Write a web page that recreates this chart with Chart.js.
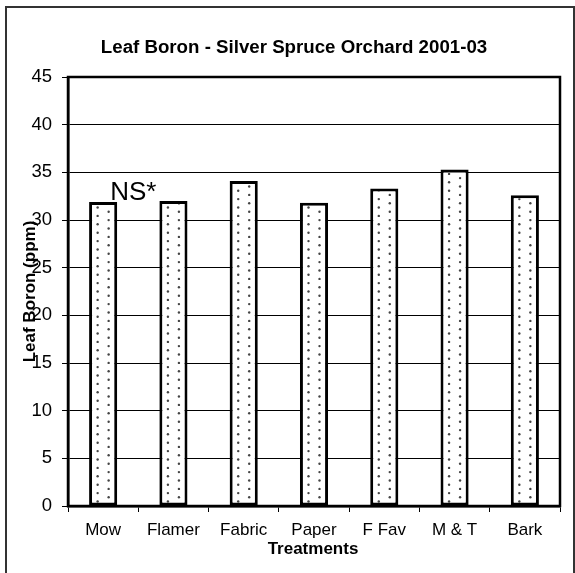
<!DOCTYPE html>
<html>
<head>
<meta charset="utf-8">
<script src="https://cdn.jsdelivr.net/npm/chart.js@4.4.1/dist/chart.umd.min.js"></script>
<style>
html,body{margin:0;padding:0;background:#fff;}
#wrap{width:575px;height:573px;position:relative;}
</style>
</head>
<body>
<div id="wrap"><canvas id="c" width="575" height="573"></canvas></div>
<script>
const categories = ['Mow', 'Flamer', 'Fabric', 'Paper', 'F Fav', 'M & T', 'Bark'];
const leafBoron = [31.9, 32.0, 34.1, 31.8, 33.3, 35.3, 32.6];
const yMin = 0, yMax = 45, yStep = 5;
const chartTitle = 'Leaf Boron - Silver Spruce Orchard 2001-03';
const xTitle = 'Treatments';
const yTitle = 'Leaf Boron (ppm)';
const note = 'NS*';
const noteValue = 32.1;

const FONT = '"Liberation Sans", Arial, sans-serif';

const decor = {
  id: 'decor',
  beforeDraw(chart) {
    const ctx = chart.ctx;
    ctx.save();
    ctx.fillStyle = '#fff';
    ctx.fillRect(0, 0, chart.width, chart.height);
    ctx.strokeStyle = '#333';
    ctx.lineWidth = 2;
    ctx.beginPath();
    ctx.moveTo(6, chart.height + 2);
    ctx.lineTo(6, 7);
    ctx.lineTo(574, 7);
    ctx.lineTo(574, chart.height + 2);
    ctx.stroke();
    ctx.restore();
  },
  afterDatasetsDraw(chart) {
    const ctx = chart.ctx;
    const meta = chart.getDatasetMeta(0);
    ctx.save();
    meta.data.forEach(bar => {
      const p = bar.getProps(['x', 'y', 'base', 'width'], true);
      const bw = 3;
      const l = p.x - p.width / 2 + bw, r = p.x + p.width / 2 - bw;
      const t = p.y + bw, b = p.base;
      ctx.save();
      ctx.beginPath();
      ctx.rect(l, t, r - l, b - t);
      ctx.clip();
      ctx.fillStyle = '#444';
      const cols = [p.x - 5.5, p.x + 5.5];
      cols.forEach((cx, i) => {
        for (let yy = b - 4 - i * 4.2; yy > t - 3; yy -= 8.4) {
          ctx.beginPath();
          ctx.arc(cx, yy, 1.2, 0, Math.PI * 2);
          ctx.fill();
        }
      });
      ctx.restore();
    });
    const a = chart.chartArea;
    ctx.strokeStyle = '#000';
    ctx.lineWidth = 2.5;
    ctx.strokeRect(a.left, a.top, a.right - a.left, a.bottom - a.top);
    ctx.restore();
  },
  afterDraw(chart) {
    const ctx = chart.ctx;
    const a = chart.chartArea;
    const xs = chart.scales.x, ys = chart.scales.y;
    ctx.save();
    ctx.fillStyle = '#000';
    ctx.textAlign = 'center';
    ctx.textBaseline = 'middle';
    ctx.font = 'bold 18.7px ' + FONT;
    ctx.fillText(chartTitle, 294, 48);
    ctx.font = 'bold 17px ' + FONT;
    ctx.fillText(xTitle, (a.left + a.right) / 2 - 1, 549);
    ctx.save();
    ctx.translate(30, (a.top + a.bottom) / 2);
    ctx.rotate(-Math.PI / 2);
    ctx.fillText(yTitle, 0, 0);
    ctx.restore();
    ctx.font = '26px ' + FONT;
    ctx.textAlign = 'left';
    ctx.textBaseline = 'alphabetic';
    ctx.fillText(note, xs.getPixelForValue(0) + 7, ys.getPixelForValue(noteValue));
    ctx.restore();
  }
};

new Chart(document.getElementById('c'), {
  type: 'bar',
  data: {
    labels: categories,
    datasets: [{
      data: leafBoron,
      backgroundColor: '#fff',
      borderColor: '#000',
      borderWidth: 3,
      borderSkipped: false,
      barPercentage: 0.4,
      categoryPercentage: 1.0
    }]
  },
  options: {
    responsive: false,
    animation: false,
    devicePixelRatio: 1,
    layout: { padding: { top: 77, right: 15, left: 0, bottom: 0 } },
    plugins: { legend: { display: false }, tooltip: { enabled: false }, title: { display: false } },
    scales: {
      x: {
        grid: { display: true, drawOnChartArea: false, drawTicks: true, tickLength: 6, color: '#000', lineWidth: 1, offset: true },
        border: { display: true, color: '#000', width: 2.5 },
        ticks: { color: '#000', font: { family: FONT, size: 17 }, padding: 8, maxRotation: 0, autoSkip: false },
        afterFit(s) { s.height = 67; }
      },
      y: {
        min: yMin, max: yMax,
        ticks: { stepSize: yStep, color: '#000', font: { family: FONT, size: 18.5 }, padding: 10 },
        grid: { color: '#000', lineWidth: 1, tickLength: 6 },
        border: { display: true, color: '#000', width: 2.5 },
        afterFit(s) { s.width = 68; }
      }
    }
  },
  plugins: [decor]
});
</script>
</body>
</html>
